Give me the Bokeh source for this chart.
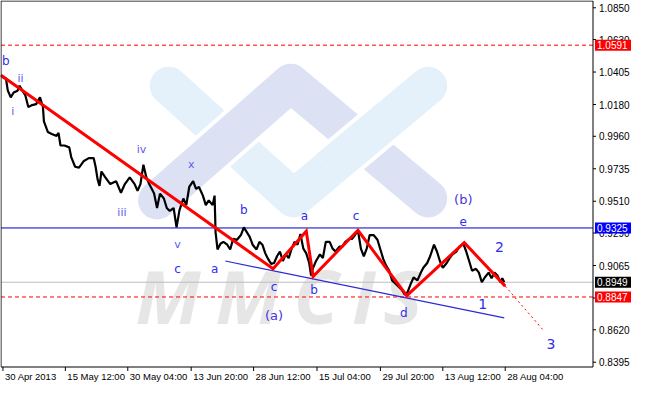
from bokeh.plotting import figure
from bokeh.models import Range1d, ColumnDataSource
from bokeh.core.properties import value
from bokeh.embed import file_html
from bokeh.resources import INLINE

# ---- price series (H4 bar index, price) ----
bars = [0, 3, 5, 7, 10, 13, 17, 19, 22, 25, 28, 32, 36, 40, 43, 44, 48, 52, 57, 59, 61, 65, 70, 72, 76, 80,
        85, 90, 95, 97, 99, 101, 103, 107, 112, 118, 123, 127, 132, 137, 140, 143, 146, 149, 152, 157, 160,
        163, 167, 170, 173, 177, 180, 183, 187, 190, 193, 197, 200, 203, 207, 210, 213, 217, 219, 220, 222,
        225, 228, 232, 235, 238, 242, 246, 249, 252, 255, 258, 262, 265, 268, 271, 274, 277, 280, 283, 286,
        289, 292, 295, 298, 301, 304, 307, 310, 313, 316, 318, 320, 323, 327, 330, 333, 337, 340, 343, 347,
        350, 353, 357, 360, 363, 366, 369, 372, 375, 378, 382, 386, 389, 392, 395, 398, 401, 404, 408, 411,
        414, 417, 420, 423, 427, 430, 433, 437, 440, 444, 447, 450, 453, 457, 460, 463, 467, 470, 474, 477,
        480, 483, 487, 490, 493, 496, 500, 503, 506, 509, 512, 514, 516]
close = [1.0383, 1.0363, 1.0363, 1.0276, 1.0230, 1.0263, 1.0276, 1.0310, 1.0276, 1.0243, 1.0163, 1.0176,
         1.0183, 1.0230, 1.0163, 1.0063, 0.9990, 0.9976, 0.9963, 0.9983, 0.9896, 0.9896, 0.9883, 0.9816,
         0.9749, 0.9743, 0.9789, 0.9809, 0.9809, 0.9749, 0.9663, 0.9616, 0.9716, 0.9676, 0.9629, 0.9649,
         0.9569, 0.9629, 0.9676, 0.9629, 0.9583, 0.9629, 0.9763, 0.9676, 0.9629, 0.9563, 0.9463, 0.9563,
         0.9529, 0.9463, 0.9443, 0.9463, 0.9329, 0.9449, 0.9529, 0.9483, 0.9609, 0.9649, 0.9596, 0.9609,
         0.9549, 0.9483, 0.9516, 0.9483, 0.9549, 0.9296, 0.9176, 0.9216, 0.9229, 0.9209, 0.9176, 0.9249,
         0.9243, 0.9276, 0.9329, 0.9296, 0.9263, 0.9209, 0.9176, 0.9229, 0.9209, 0.9149, 0.9109, 0.9076,
         0.9082, 0.9129, 0.9162, 0.9096, 0.9142, 0.9116, 0.9182, 0.9229, 0.9209, 0.9283, 0.9182, 0.9149,
         0.9082, 0.8996, 0.9049, 0.9096, 0.9142, 0.9116, 0.9229, 0.9229, 0.9182, 0.9162, 0.9196, 0.9196,
         0.9229, 0.9249, 0.9249, 0.9276, 0.9309, 0.9182, 0.9129, 0.9182, 0.9276, 0.9276, 0.9243, 0.9176,
         0.9109, 0.9062, 0.9029, 0.8962, 0.8942, 0.8916, 0.8896, 0.8862, 0.8882, 0.8936, 0.8982, 0.8962,
         0.9009, 0.9049, 0.9082, 0.9129, 0.9209, 0.9162, 0.9096, 0.9049, 0.9082, 0.9116, 0.9142, 0.9162,
         0.9196, 0.9216, 0.9162, 0.9096, 0.9029, 0.9042, 0.9016, 0.8949, 0.8982, 0.9016, 0.8976, 0.9016,
         0.8996, 0.8949, 0.8976, 0.8949]

# ---- wave zigzag, projection, trendline ----
wave_bars = [0, 279, 313, 320, 366, 416, 475, 517]
wave_prices = [1.0383, 0.9042, 0.9303, 0.8989, 0.9309, 0.8856, 0.9223, 0.8922]
proj_bars = [517, 557]
proj_prices = [0.8922, 0.8609]
trend_bars = [230, 516]
trend_prices = [0.9096, 0.8702]

# ---- horizontal levels ----
level_prices = [1.0591, 0.9325, 0.8949, 0.8847]
level_line_colors = ["#FF0000", "#0000C8", "#BDBDBD", "#FF0000"]
level_dashes = ["4 3", "solid", "solid", "4 3"]
level_box_colors = ["#FF0000", "#0000FF", "#000000", "#FF0000"]

# ---- wave labels ----
wave_label_text = ["b", "ii", "i", "iv", "x", "iii", "v", "c", "a", "b", "a", "c", "b", "(a)", "c", "d",
                   "(b)", "e", "2", "1", "3"]
wave_label_bar = [5, 20, 12, 144, 195, 124, 181, 181, 219, 249, 311, 280, 321, 280, 364, 413, 474, 474,
                  511, 494, 564]
wave_label_price = [1.0483, 1.0363, 1.0130, 0.9869, 0.9763, 0.9429, 0.9209, 0.9042, 0.9042, 0.9449,
                    0.9409, 0.8916, 0.8896, 0.8722, 0.9409, 0.8736, 0.9523, 0.9369, 0.9196, 0.8796,
                    0.8522]
wave_label_kind = ["l", "r", "r", "r", "r", "r", "r", "l", "l", "l", "l", "l", "l", "p", "l", "l", "p",
                   "l", "n", "n", "n"]

# ---- axes ----
price_ticks = [1.0850, 1.0630, 1.0405, 1.0180, 0.9960, 0.9735, 0.9510, 0.9290, 0.9065, 0.8840, 0.8620,
               0.8395]
date_tick_bars = [2, 66, 130, 195, 259, 324, 389, 453, 517]
date_tick_labels = ["30 Apr 2013", "15 May 12:00", "30 May 04:00", "13 Jun 20:00", "28 Jun 12:00",
                    "15 Jul 04:00", "29 Jul 20:00", "13 Aug 12:00", "28 Aug 04:00"]

# ---- watermark (logo bands, letters) ----
logo_v_bars = [172, 300, 438]
logo_v_prices = [1.0310, 0.9529, 1.0310]
logo_a_bars = [160, 297, 438]
logo_a_prices = [0.9516, 1.0330, 0.9529]
logo_x_bars = [335, 400]
logo_x_prices = [0.9729, 1.0096]
wm_letters = ["M", "M", "C", "I", "S"]
wm_bars = [138, 220, 300, 360, 392]
wm_base = 0.8856

# ---- chart area bounds (first / last bar column, top / bottom price) ----
X_LEFT, X_END = 0, 607
PLOT_TOP, PLOT_BOTTOM = 1.0897, 0.8362

W, H = 634, 384
FRAME_W, FRAME_H = 592, 366
KX = FRAME_W / (X_END - X_LEFT)          # px per bar
KY = FRAME_H / (PLOT_TOP - PLOT_BOTTOM)  # px per price unit
X0 = X_LEFT - 0.5 / KX
X1 = X0 + W / KX
Y1 = PLOT_TOP + 0.5 / KY
Y0 = Y1 - H / KY


def dx(px):
    return px / KX


def dy(px):
    return px / KY


FONT = "Liberation Sans"

p = figure(width=W, height=H, x_range=Range1d(X0, X1), y_range=Range1d(Y0, Y1),
           x_axis_type=None, y_axis_type=None, min_border=0,
           output_backend="svg", toolbar_location=None)
p.outline_line_color = None
p.xgrid.visible = False
p.ygrid.visible = False
p.background_fill_color = "white"
p.border_fill_color = "white"

# watermark
LB = "#E4F1FA"
LV = "#DDE1F4"
p.line(logo_v_bars, logo_v_prices, line_width=38, line_color=LB, line_cap="round", line_join="round")
p.line(logo_a_bars, logo_a_prices, line_width=46, line_color="white", line_cap="round", line_join="round")
p.line(logo_a_bars, logo_a_prices, line_width=38, line_color=LV, line_cap="round", line_join="round")
p.line(logo_x_bars, logo_x_prices, line_width=46, line_color="white", line_cap="butt")
p.line(logo_x_bars, logo_x_prices, line_width=38, line_color=LB, line_cap="butt")
p.text(x=wm_bars, y=[wm_base] * len(wm_bars), text=wm_letters, text_font=value("Open Sans"),
       text_font_style="bold italic", text_font_size="74px", text_color="#E6E6E6",
       text_align="left", text_baseline="alphabetic")

# horizontal levels
for pr, lc, ld in zip(level_prices, level_line_colors, level_dashes):
    p.segment(x0=[X_LEFT], y0=[pr], x1=[X_END], y1=[pr], line_color=lc, line_width=1, line_dash=ld)

# price
p.line(bars, close, line_color="black", line_width=2.2)

# trendline
p.line(trend_bars, trend_prices, line_color="#2A2AD8", line_width=1.2)

# wave zigzag + projection
p.line(wave_bars, wave_prices, line_color="#FF0000", line_width=3, line_join="miter")
p.line(proj_bars, proj_prices, line_color="#FF0000", line_width=1, line_dash="2 3")

# wave labels
kind_color = {"l": "#2E2EEE", "r": "#5C5CF0", "p": "#4A34DD", "n": "#2E2EEE"}
kind_size = {"l": "12px", "r": "11px", "p": "13px", "n": "14px"}
src = ColumnDataSource(dict(x=wave_label_bar, y=wave_label_price, t=wave_label_text,
                            c=[kind_color[k] for k in wave_label_kind],
                            s=[kind_size[k] for k in wave_label_kind]))
p.text(x="x", y="y", text="t", text_color="c", text_font_size="s", source=src,
       text_font=value("DejaVu Sans"), text_align="center", text_baseline="middle")

# chart border and axis lines
p.segment(x0=[X_LEFT, X_LEFT, X_LEFT, X_END], y0=[PLOT_BOTTOM, PLOT_TOP, PLOT_BOTTOM, PLOT_BOTTOM],
          x1=[X_LEFT, X_END, X_END, X_END], y1=[PLOT_TOP, PLOT_TOP, PLOT_BOTTOM, PLOT_TOP],
          line_color="black", line_width=1)

# right price axis: ticks and labels
n = len(price_ticks)
p.segment(x0=[X_END] * n, y0=price_ticks, x1=[X_END + dx(3)] * n, y1=price_ticks,
          line_color="black", line_width=1)
p.text(x=[X_END + dx(6)] * n, y=price_ticks, text=[f"{t:.4f}" for t in price_ticks],
       text_font=value(FONT), text_font_size="10px", text_color="black",
       text_align="left", text_baseline="middle")

# bottom time axis: ticks and labels
m = len(date_tick_bars)
p.segment(x0=date_tick_bars, y0=[PLOT_BOTTOM] * m, x1=date_tick_bars, y1=[PLOT_BOTTOM - dy(4)] * m,
          line_color="black", line_width=1)
p.text(x=[b + dx(2) for b in date_tick_bars], y=[PLOT_BOTTOM - dy(4)] * m, text=date_tick_labels,
       text_font=value(FONT), text_font_size="9.5px", text_color="black",
       text_align="left", text_baseline="top")

# level price boxes on the axis
k = len(level_prices)
p.rect(x=[X_END + dx(2 + 18)] * k, y=level_prices, width=dx(36), height=dy(11),
       fill_color=level_box_colors, line_color=None)
p.text(x=[X_END + dx(4)] * k, y=level_prices, text=[f"{v:.4f}" for v in level_prices],
       text_font=value(FONT), text_font_size="10px", text_color="white",
       text_align="left", text_baseline="middle")

open("out.html", "w").write(file_html(p, INLINE))
